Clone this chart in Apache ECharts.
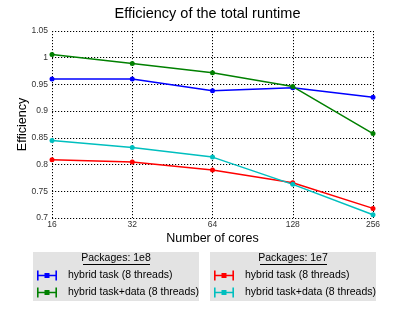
<!DOCTYPE html>
<html><head><meta charset="utf-8">
<script src="https://cdn.jsdelivr.net/npm/echarts@6/dist/echarts.min.js"></script>
<style>html,body{margin:0;padding:0;background:#fff}#c{width:415px;height:312px}</style>
</head><body><div id="c"></div>
<script>
const cores = [16, 32, 64, 128, 256];
const yTicks = [0.7, 0.75, 0.8, 0.85, 0.9, 0.95, 1, 1.05];
const task1e8 = [0.960, 0.960, 0.938, 0.944, 0.926];
const taskData1e8 = [1.006, 0.989, 0.972, 0.946, 0.858];
const task1e7 = [0.809, 0.805, 0.790, 0.766, 0.718];
const taskData1e7 = [0.845, 0.832, 0.814, 0.763, 0.706];
const names = ['hybrid task (8 threads)', 'hybrid task+data (8 threads)'];
const groups = ['Packages: 1e8', 'Packages: 1e7'];

const FONT = 'Liberation Sans';
const icon = 'path://M0,4.2h20v1.6h-20z M0,0h1.6v10h-1.6z M18.4,0h1.6v10h-1.6z M7.5,2.5h5v5h-5z';
function pts(arr){ return cores.map((c,i)=>[c, arr[i]]); }
function mk(name, color, arr, id){
  return {name: name, id: id, type:'line', data: pts(arr), symbol:'circle', symbolSize:5,
    lineStyle:{color:color, width:1.5}, itemStyle:{color:color}, emphasis:{disabled:true}, z:3};
}
const chart = echarts.init(document.getElementById('c'), null, {renderer:'canvas'});
const dotted = {type:[1.2,1.8], color:'#000', width:1};
const legendBase = {orient:'vertical', top:270, itemWidth:20, itemHeight:10, itemGap:6,
  backgroundColor:'transparent', padding:0, selectedMode:false,
  textStyle:{fontFamily:FONT, fontSize:10.5, color:'#000', padding:[0,0,0,6]}};
chart.setOption({
  animation:false,
  textStyle:{fontFamily:FONT},
  title:{text:'Efficiency of the total runtime', left:'center', top:1,
    textStyle:{fontFamily:FONT, fontSize:14.5, fontWeight:'normal', color:'#000'}},
  grid:{left:52, right:42, top:31, bottom:94},
  xAxis:{type:'log', logBase:2, min:16, max:256, name:'Number of cores', nameLocation:'middle', nameGap:14,
    nameMoveOverlap:false,
    nameTextStyle:{fontFamily:FONT, fontSize:12.5, color:'#000'},
    axisLine:{show:false}, axisTick:{show:false},
    axisLabel:{fontFamily:FONT, fontSize:8.5, color:'#333', margin:2, formatter:v=>String(Math.round(v))},
    splitLine:{show:true, lineStyle:dotted}},
  yAxis:{type:'value', min:0.7, max:1.05, interval:0.05, name:'Efficiency', nameLocation:'middle', nameGap:23,
    nameMoveOverlap:false,
    nameTextStyle:{fontFamily:FONT, fontSize:12.5, color:'#000'},
    axisLine:{show:false}, axisTick:{show:false},
    axisLabel:{fontFamily:FONT, fontSize:8.5, color:'#333', margin:4, formatter:v=>String(parseFloat(v.toFixed(2)))},
    splitLine:{show:true, lineStyle:dotted}},
  legend:[
    Object.assign({}, legendBase, {left:37, data:[{name:names[0]+' ', icon:icon},{name:names[1]+' ', icon:icon}]}),
    Object.assign({}, legendBase, {left:214, data:[{name:names[0], icon:icon},{name:names[1], icon:icon}]})
  ],
  graphic:[
    {type:'rect', z:-10, shape:{x:33, y:252, width:166, height:49}, style:{fill:'#e3e3e3'}},
    {type:'rect', z:-10, shape:{x:210, y:252, width:166, height:49}, style:{fill:'#e3e3e3'}},
    {type:'text', z:10, x:116, y:258, style:{text:groups[0], fontFamily:FONT, fontSize:10.5, fill:'#000', align:'center', verticalAlign:'middle'}},
    {type:'line', z:10, shape:{x1:83, y1:264.5, x2:150, y2:264.5}, style:{stroke:'#000', lineWidth:1}},
    {type:'text', z:10, x:293, y:258, style:{text:groups[1], fontFamily:FONT, fontSize:10.5, fill:'#000', align:'center', verticalAlign:'middle'}},
    {type:'line', z:10, shape:{x1:260, y1:264.5, x2:327, y2:264.5}, style:{stroke:'#000', lineWidth:1}}
  ],
  series:[
    mk(names[0]+' ', '#0000ff', task1e8, 'a'),
    mk(names[1]+' ', '#008000', taskData1e8, 'b'),
    mk(names[0], '#ff0000', task1e7, 'c'),
    mk(names[1], '#00bfbf', taskData1e7, 'd')
  ]
});
</script></body></html>
